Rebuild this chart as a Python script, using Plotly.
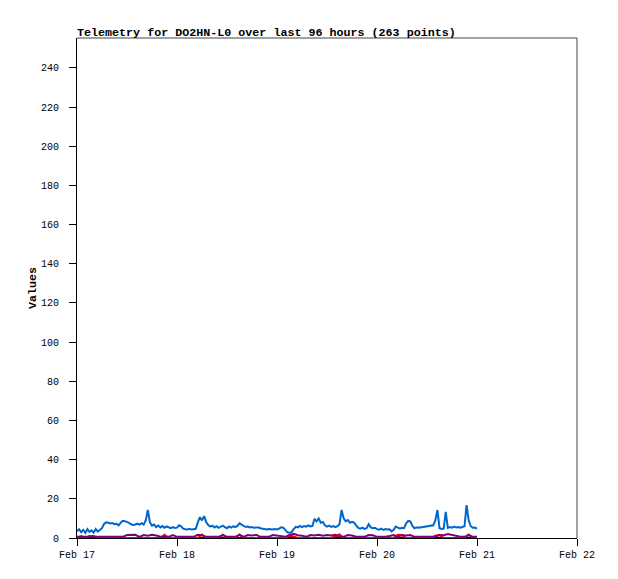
import numpy as np
import pandas as pd
import plotly.graph_objects as go

# ---- data ----
base_time = "2025-02-17 00:00"
title_text = "Telemetry for DO2HN-L0 over last 96 hours (263 points)"

# blue series: sample hours (gap between 82 h and 85.5 h) and values
blue_hours = list(np.arange(0, 82.5, 0.5)) + list(np.arange(85.5, 96.5, 0.5))
blue_values = [
    3.5, 4.5, 3.0, 4.2, 2.6, 4.5, 3.1, 3.9, 2.8, 4.6, 3.3, 4.2,
    5.0, 7.2, 8.0,
    7.8, 7.4, 7.6, 7.1, 7.3,
    6.5, 7.8, 8.8, 8.6, 8.3, 7.7,
    7.0, 6.6, 6.9, 7.3, 6.8, 7.6, 6.9,
    9.0, 14.3, 8.0,
    6.3, 6.9, 5.6, 6.4, 5.4, 6.1, 5.2, 5.9, 5.5, 5.0, 5.6, 5.1,
    5.3, 6.5, 6.0, 4.8, 4.5, 4.4, 4.7, 4.3, 4.5, 4.7,
    8.0, 10.6, 9.0, 11.2, 8.2, 6.6, 5.8,
    6.3, 5.4, 6.0, 5.2, 5.9, 6.3, 5.5, 5.0, 5.9, 5.3, 6.0, 5.6, 6.2,
    7.5, 6.8, 6.2,
    5.6, 5.8, 5.4, 5.6, 5.2, 5.3, 5.5, 5.0, 4.8, 4.6, 4.4, 4.6,
    4.5, 4.3, 4.6, 4.4, 4.8, 5.5, 5.3, 4.0,
    2.9, 2.7, 3.0, 4.5,
    5.7, 5.4, 6.2, 5.6, 6.1, 5.8, 6.4, 5.9, 6.2,
    9.8, 8.5, 10.0, 7.8, 8.2,
    6.5, 5.8, 6.3, 5.7, 6.1, 5.5, 6.0, 7.0,
    14.3, 10.0, 8.5, 9.2, 7.8,
    8.3, 7.9, 6.5,
    5.2, 4.8, 5.3, 4.6, 5.0,
    7.0, 5.4, 5.0, 5.2,
    4.5, 4.2, 4.8, 4.1, 4.6, 4.3, 4.4,
    3.4, 4.2, 5.8, 5.3,
    4.9, 5.2, 5.0,
    7.5, 8.7, 8.5, 6.2,
    5.0, 5.4, 5.3,
    6.5, 9.0, 14.3,
    5.0, 4.6, 4.8,
    13.4,
    5.2, 5.6, 5.3, 5.8, 5.4, 5.6, 5.3, 5.5, 6.0,
    16.8, 9.0,
    6.0, 5.2, 5.3, 4.8,
]

# hourly series (hours 0..96)
hourly_hours = list(range(0, 97))
purple_values = [
    0.6, 0.6, 0.6, 0.6, 0.6, 0.6, 0.6, 0.6, 0.6, 0.6, 0.6,   # 0-10
    0.6, 1.5, 1.4, 1.6, 0.6, 1.5, 1.2, 1.6, 1.3, 0.6,        # 11-20
    0.6, 0.6, 1.5, 0.6, 0.6, 0.6, 0.6, 0.6, 1.6, 1.4,        # 21-30
    0.6, 0.6, 0.6, 0.6, 1.5, 0.6, 0.6, 0.6, 1.6, 0.6,        # 31-40
    1.5, 1.3, 1.6, 0.6, 0.6, 0.6, 1.5, 1.2, 0.6, 0.6,        # 41-50
    1.5, 2.2, 1.4, 1.2, 0.6, 1.5, 1.3, 1.6, 1.2, 1.5,        # 51-60
    1.3, 1.6, 0.6, 0.6, 1.5, 1.3, 0.6, 0.6, 0.6, 1.5,        # 61-70
    1.4, 0.6, 0.6, 0.6, 1.0, 1.5, 0.6, 1.5, 1.3, 1.5,        # 71-80
    0.6, 0.6, 0.6, 0.6, 0.6, 0.6, 1.5, 1.4, 2.0, 1.5,        # 81-90
    1.2, 0.6, 0.6, 1.5, 0.6, 0.6,                            # 91-96
]
red_values = [
    0.0, 1.0, 0.0, 1.0, 1.0, 0.0, 0.0, 0.0, 0.0, 0.0, 0.0,   # 0-10
    0.0, 0.0, 0.0, 0.0, 0.0, 0.0, 0.0, 0.0, 0.0, 0.0,        # 11-20
    1.6, 0.0, 0.0, 0.0, 0.0, 0.0, 0.0, 0.0, 0.0, 1.8,        # 21-30
    0.0, 0.0, 0.0, 0.0, 1.7, 0.0, 0.0, 0.0, 1.8, 0.0,        # 31-40
    0.0, 0.0, 0.0, 0.0, 0.0, 0.0, 0.0, 0.0, 0.0, 0.0,        # 41-50
    1.2, 0.8, 0.0, 0.0, 0.0, 0.0, 0.0, 0.0, 0.0, 0.0,        # 51-60
    0.0, 1.0, 1.8, 0.0, 0.0, 0.0, 0.0, 0.0, 0.0, 0.0,        # 61-70
    0.0, 0.0, 0.0, 0.0, 0.0, 0.0, 1.6, 1.5, 0.0, 0.0,        # 71-80
    0.0, 0.0, 0.0, 0.0, 0.0, 1.2, 1.6, 0.0, 0.0, 0.0,        # 81-90
    0.0, 0.0, 0.0, 1.8, 0.0, 0.0,                            # 91-96
]
black_values = [0.0] * 97

x_range = ["2025-02-17 00:00", "2025-02-22 00:00"]
y_range = [0, 255.3]
y_tick_values = [0, 20, 40, 60, 80, 100, 120, 140, 160, 180, 200, 220, 240]
x_tick_values = ["2025-02-17", "2025-02-18", "2025-02-19", "2025-02-20", "2025-02-21", "2025-02-22"]
x_tick_labels = ["Feb 17", "Feb 18", "Feb 19", "Feb 20", "Feb 21", "Feb 22"]
y_title = "Values"

# ---- build ----
t0 = pd.Timestamp(base_time)
def to_time(hours):
    return [t0 + pd.Timedelta(hours=float(h)) for h in hours]

fig = go.Figure()
fig.add_trace(go.Scatter(x=to_time(hourly_hours), y=black_values, mode="lines",
                         line=dict(color="#000000", width=2), showlegend=False))
fig.add_trace(go.Scatter(x=to_time(hourly_hours), y=red_values, mode="lines",
                         line=dict(color="#ff0000", width=2), showlegend=False))
fig.add_trace(go.Scatter(x=to_time(hourly_hours), y=purple_values, mode="lines",
                         line=dict(color="#800080", width=2), showlegend=False))
fig.add_trace(go.Scatter(x=to_time(blue_hours), y=blue_values, mode="lines",
                         line=dict(color="#0066cc", width=2), showlegend=False))

mono = "Liberation Mono"
# page body has an 8px margin, so the figure is sized 8px smaller and offset
fig.update_layout(
    width=610, height=571,
    margin=dict(l=69, r=41, t=30, b=41),
    paper_bgcolor="white", plot_bgcolor="white",
    title=dict(text="<b>" + title_text + "</b>", x=0, xref="paper", xanchor="left",
               y=1, yref="paper", yanchor="bottom", pad=dict(b=2),
               font=dict(family=mono, size=11.7, color="black")),
    xaxis=dict(type="date", range=x_range, tickvals=x_tick_values, ticktext=x_tick_labels,
               showgrid=False, zeroline=False, showline=True, linecolor="black", linewidth=1,
               ticks="outside", ticklen=7, tickcolor="black", tickwidth=1,
               tickfont=dict(family=mono, size=10, color="black")),
    yaxis=dict(range=y_range, tickvals=y_tick_values, showgrid=False, zeroline=False,
               showline=True, linecolor="black", linewidth=1,
               ticks="outside", ticklen=7, tickcolor="black", tickwidth=1,
               ticklabelstandoff=8,
               tickfont=dict(family=mono, size=10, color="black"),
               title=dict(text="<b>" + y_title + "</b>", standoff=1,
                          font=dict(family=mono, size=11.7, color="black"))),
    shapes=[
        dict(type="line", xref="paper", yref="paper", x0=0, x1=1, y0=1, y1=1,
             line=dict(color="#444444", width=1)),
        dict(type="line", xref="paper", yref="paper", x0=1, x1=1, y0=0, y1=1,
             line=dict(color="#444444", width=1)),
    ],
)

fig.write_html("out.html")
